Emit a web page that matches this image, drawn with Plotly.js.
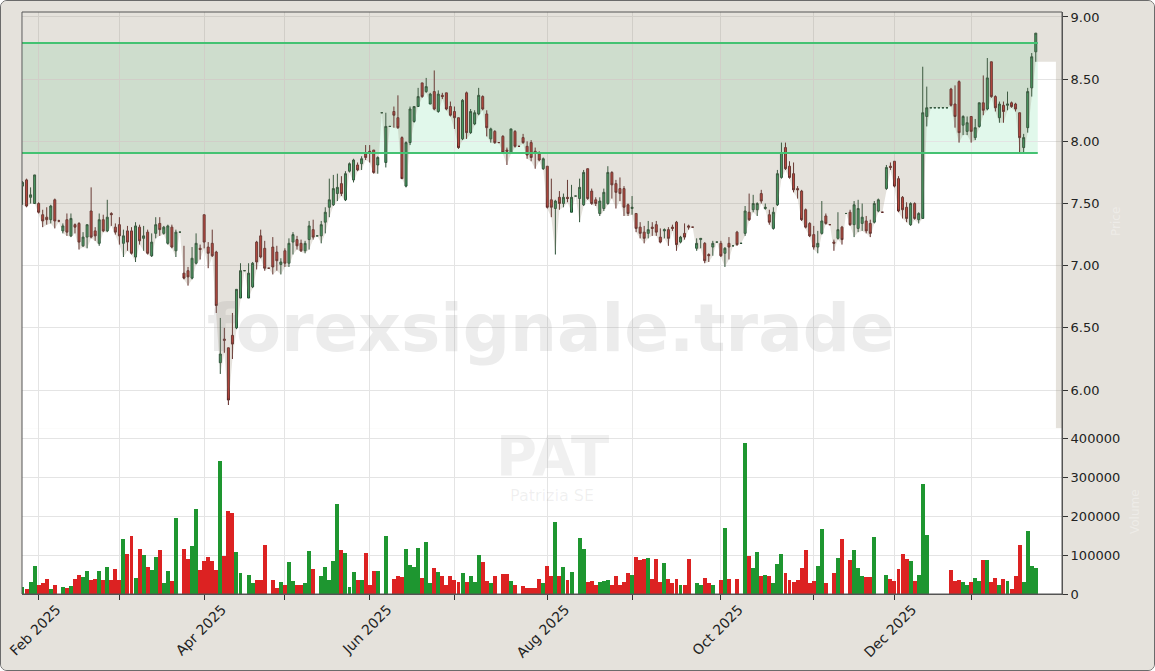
<!DOCTYPE html>
<html><head><meta charset="utf-8">
<script src="https://cdn.plot.ly/plotly-3.0.1.min.js"></script>
<style>
html,body{margin:0;padding:0;background:#ffffff;}
#wrap{width:1153px;height:669px;border:1px solid #6b6b6b;border-radius:7px;overflow:hidden;background:#e5e2dc;}
#chart{width:1153px;height:669px;}
</style></head><body><div id="wrap"><div id="chart"></div></div>
<script>
// ---- data ----
const startDate = '2025-01-28';
const holidays = ['2025-04-18','2025-04-21','2025-05-01','2025-12-24','2025-12-25','2025-12-26','2025-12-31','2026-01-01'];

const opens = [
7.64,7.69,7.55,7.50,7.50,7.41,7.39,7.37,7.53,7.36,
7.28,7.37,7.24,7.33,7.34,7.16,7.23,7.44,7.28,7.18,
7.37,7.28,7.42,7.31,7.33,7.18,7.28,7.28,7.07,7.31,
7.22,7.27,7.08,7.26,7.34,7.26,7.18,7.31,7.12,7.27,
6.94,6.96,6.90,7.02,7.14,7.41,7.15,7.18,7.11,6.22,
6.41,6.34,6.44,6.50,6.74,6.96,6.74,6.83,7.19,7.24,
7.14,6.98,7.15,7.11,7.01,7.12,7.02,7.19,7.21,7.18,
7.12,7.21,7.29,7.24,7.24,7.35,7.47,7.49,7.58,7.66,
7.53,7.76,7.69,7.81,7.82,7.90,7.92,7.93,7.81,8.23,
7.83,8.12,8.24,8.19,8.03,7.64,7.99,8.16,8.28,8.47,
8.40,8.30,8.40,8.24,8.37,8.39,8.28,8.24,8.19,8.02,
8.39,8.07,8.14,8.22,8.36,8.22,8.02,8.08,7.99,8.04,
7.93,7.91,8.08,7.96,8.03,7.96,7.99,7.92,7.90,7.78,
7.80,7.53,7.46,7.55,7.50,7.55,7.43,7.56,7.54,7.49,
7.78,7.60,7.53,7.42,7.46,7.50,7.75,7.66,7.62,7.62,
7.49,7.46,7.42,7.31,7.27,7.26,7.31,7.33,7.23,7.28,
7.29,7.31,7.35,7.19,7.26,7.32,7.31,7.14,7.21,7.18,
7.09,7.15,7.19,7.18,7.10,7.18,7.16,7.27,7.18,7.26,
7.43,7.45,7.45,7.58,7.46,7.41,7.30,7.49,7.71,7.95,
7.80,7.74,7.62,7.60,7.45,7.34,7.25,7.15,7.26,7.40,
7.33,7.19,7.22,7.31,7.42,7.43,7.33,7.30,7.34,7.36,
7.34,7.35,7.44,7.43,7.62,7.80,7.84,7.70,7.55,7.47,
7.33,7.50,7.37,7.38,8.20,8.27,8.27,8.27,8.27,8.27,
8.42,8.30,8.48,8.13,8.08,8.20,8.03,8.12,8.31,8.26,
8.64,8.36,8.19,8.29,8.29,8.31,8.30,8.23,7.95,8.11,
8.43,8.72];

const highs = [
7.68,7.70,7.63,7.73,7.51,7.45,7.47,7.49,7.54,7.37,
7.34,7.42,7.42,7.34,7.35,7.27,7.33,7.63,7.31,7.42,
7.41,7.53,7.43,7.34,7.39,7.29,7.32,7.31,7.35,7.33,
7.32,7.29,7.26,7.39,7.39,7.32,7.33,7.33,7.29,7.27,
7.16,6.99,7.15,7.26,7.17,7.41,7.19,7.29,7.12,6.58,
6.50,6.34,6.62,6.81,7.02,6.96,7.02,7.03,7.20,7.29,
7.20,6.98,7.23,7.16,7.06,7.14,7.22,7.27,7.24,7.21,
7.20,7.36,7.37,7.24,7.36,7.47,7.70,7.73,7.74,7.72,
7.76,7.83,7.86,7.83,7.88,7.97,7.97,7.93,7.88,8.23,
8.23,8.12,8.28,8.37,8.04,8.00,8.28,8.28,8.43,8.47,
8.51,8.39,8.57,8.41,8.39,8.39,8.32,8.28,8.19,8.34,
8.40,8.26,8.25,8.43,8.37,8.25,8.11,8.09,7.99,8.05,
7.95,8.10,8.09,7.96,8.06,8.00,8.01,7.95,7.92,7.87,
7.80,7.70,7.53,7.60,7.58,7.69,7.65,7.56,7.70,7.77,
7.78,7.62,7.55,7.55,7.62,7.80,7.76,7.69,7.71,7.64,
7.50,7.56,7.42,7.35,7.32,7.36,7.35,7.36,7.30,7.30,
7.31,7.33,7.36,7.24,7.34,7.33,7.31,7.22,7.22,7.19,
7.10,7.20,7.19,7.20,7.15,7.23,7.16,7.28,7.18,7.48,
7.58,7.57,7.51,7.61,7.50,7.45,7.47,7.77,7.99,7.99,
7.84,7.83,7.64,7.61,7.46,7.35,7.32,7.28,7.52,7.42,
7.33,7.21,7.43,7.32,7.42,7.45,7.52,7.53,7.50,7.40,
7.37,7.52,7.54,7.43,7.81,7.83,7.84,7.72,7.56,7.51,
7.51,7.51,7.43,8.60,8.44,8.27,8.27,8.27,8.27,8.27,
8.43,8.45,8.49,8.21,8.20,8.20,8.18,8.31,8.53,8.67,
8.64,8.37,8.32,8.32,8.40,8.32,8.31,8.23,8.06,8.43,
8.71,8.87];

const lows = [
7.49,7.47,7.50,7.50,7.42,7.31,7.33,7.34,7.30,7.35,
7.26,7.24,7.23,7.26,7.13,7.15,7.14,7.22,7.20,7.16,
7.27,7.27,7.32,7.25,7.17,7.07,7.12,7.09,7.03,7.17,
7.12,7.09,7.07,7.22,7.24,7.25,7.17,7.14,7.07,7.27,
6.89,6.84,6.89,7.01,7.05,7.14,6.98,7.07,6.62,6.13,
6.30,5.88,6.25,6.49,6.74,6.96,6.74,6.82,6.97,7.06,
6.96,6.98,6.93,6.96,6.93,6.99,6.99,7.09,7.13,7.11,
7.10,7.13,7.21,7.24,7.18,7.26,7.39,7.48,7.52,7.56,
7.52,7.75,7.67,7.76,7.77,7.85,7.83,7.74,7.74,8.23,
7.79,8.12,8.11,8.10,7.70,7.63,7.97,8.15,8.28,8.35,
8.39,8.30,8.25,8.23,8.34,8.25,8.20,8.10,7.94,8.01,
8.02,8.06,8.13,8.21,8.25,8.04,7.99,7.98,7.99,7.90,
7.81,7.90,7.95,7.96,7.98,7.86,7.84,7.78,7.84,7.77,
7.46,7.39,7.09,7.45,7.47,7.51,7.43,7.56,7.35,7.48,
7.53,7.49,7.48,7.40,7.44,7.49,7.54,7.46,7.52,7.40,
7.40,7.41,7.27,7.22,7.18,7.22,7.24,7.24,7.18,7.22,
7.16,7.28,7.12,7.18,7.21,7.29,7.31,7.12,7.14,7.02,
7.03,7.08,7.19,7.07,6.99,7.05,7.16,7.16,7.18,7.24,
7.36,7.43,7.40,7.50,7.45,7.33,7.29,7.48,7.70,7.77,
7.70,7.59,7.54,7.36,7.30,7.23,7.13,7.10,7.25,7.33,
7.33,7.12,7.21,7.17,7.42,7.32,7.23,7.27,7.28,7.26,
7.23,7.34,7.43,7.43,7.61,7.77,7.63,7.43,7.38,7.35,
7.32,7.37,7.34,7.38,8.12,8.27,8.27,8.27,8.27,8.27,
8.28,8.11,7.99,8.05,8.05,7.99,8.01,8.11,8.21,8.25,
8.35,8.24,8.15,8.15,8.25,8.27,8.24,7.91,7.91,8.07,
8.36,8.64];

const closes = [
7.67,7.48,7.57,7.73,7.43,7.36,7.37,7.48,7.36,7.36,
7.32,7.27,7.38,7.31,7.19,7.23,7.33,7.23,7.24,7.37,
7.28,7.39,7.41,7.27,7.24,7.24,7.19,7.10,7.32,7.20,
7.24,7.10,7.19,7.33,7.29,7.31,7.32,7.15,7.27,7.27,
6.90,6.91,7.06,7.18,7.13,7.19,7.10,7.08,6.68,6.29,
6.40,5.92,6.37,6.81,6.96,6.96,6.94,7.02,7.03,7.07,
6.98,6.98,6.99,7.04,7.03,7.02,7.18,7.25,7.16,7.12,
7.18,7.32,7.23,7.24,7.33,7.43,7.53,7.62,7.63,7.58,
7.74,7.82,7.85,7.77,7.86,7.87,7.91,7.75,7.87,8.23,
8.12,8.12,8.21,8.11,7.70,7.99,8.26,8.28,8.36,8.36,
8.44,8.38,8.26,8.38,8.36,8.26,8.21,8.19,7.95,8.33,
8.07,8.24,8.23,8.37,8.26,8.11,8.10,7.99,7.99,7.91,
7.92,8.10,7.96,7.96,7.99,7.89,7.87,7.91,7.85,7.86,
7.47,7.47,7.52,7.50,7.55,7.54,7.55,7.56,7.63,7.75,
7.54,7.50,7.50,7.52,7.59,7.75,7.65,7.59,7.58,7.47,
7.42,7.47,7.30,7.26,7.22,7.29,7.30,7.27,7.19,7.29,
7.22,7.30,7.17,7.23,7.23,7.31,7.31,7.18,7.22,7.04,
7.08,7.18,7.19,7.08,7.14,7.15,7.16,7.17,7.18,7.44,
7.37,7.50,7.50,7.52,7.47,7.35,7.43,7.74,7.91,7.78,
7.71,7.61,7.61,7.37,7.31,7.24,7.15,7.18,7.36,7.34,
7.33,7.18,7.29,7.21,7.42,7.33,7.49,7.46,7.39,7.28,
7.26,7.50,7.53,7.43,7.79,7.79,7.64,7.44,7.45,7.38,
7.50,7.38,7.42,8.23,8.27,8.27,8.27,8.27,8.27,8.27,
8.29,8.20,8.07,8.20,8.15,8.08,8.11,8.31,8.25,8.51,
8.36,8.27,8.30,8.24,8.30,8.28,8.26,8.03,8.03,8.40,
8.68,8.87];

const volumes = [
18000,13000,32000,72000,24000,27000,39000,13000,24000,0,
18000,15000,21000,39000,48000,44000,58000,37000,39000,60000,
37000,70000,35000,63000,37000,140000,103000,149000,41000,115000,
100000,69000,62000,95000,113000,28000,60000,33000,196000,0,
115000,90000,123000,217000,62000,85000,95000,85000,62000,340000,
98000,212000,207000,107000,55000,0,50000,27000,35000,35000,
126000,0,35000,16000,30000,24000,83000,34000,23000,22000,
28000,110000,65000,0,47000,69000,37000,85000,230000,113000,
105000,19000,57000,35000,37000,105000,24000,60000,58000,0,
149000,0,39000,47000,43000,116000,75000,70000,117000,42000,
134000,27000,67000,57000,47000,24000,47000,37000,30000,55000,
32000,47000,32000,100000,83000,34000,27000,45000,0,52000,
52000,34000,24000,0,20000,15000,15000,15000,39000,27000,
72000,45000,184000,47000,70000,37000,57000,0,144000,116000,
32000,34000,22000,32000,34000,37000,22000,45000,22000,32000,
55000,50000,95000,88000,90000,93000,39000,90000,32000,80000,
39000,27000,39000,24000,22000,90000,0,27000,22000,42000,
29000,22000,0,37000,170000,39000,0,39000,0,388000,
98000,67000,108000,45000,50000,45000,29000,78000,102000,55000,
37000,30000,37000,67000,113000,27000,34000,73000,166000,28000,
0,54000,92000,141000,0,88000,113000,67000,47000,44000,
44000,145000,0,0,50000,39000,33000,64000,103000,90000,
85000,34000,50000,281000,151000,0,0,0,0,0,
62000,34000,37000,32000,22000,32000,41000,34000,88000,88000,
31000,42000,24000,39000,34000,14000,47000,126000,32000,161000,
72000,67000];

const bandLow = 7.906;
const bandHigh = 8.79;
const priceTicks = [6.0,6.5,7.0,7.5,8.0,8.5,9.0];
const volumeTicks = [0,100000,200000,300000,400000];
const monthTicks = ['2025-02-03','2025-03-03','2025-04-01','2025-05-02','2025-06-02','2025-07-01','2025-08-01','2025-09-01','2025-10-01','2025-11-03','2025-12-01','2026-01-02'];
const monthLabels = ['Feb 2025','','Apr 2025','','Jun 2025','','Aug 2025','','Oct 2025','','Dec 2025',''];
const symbol = 'PAT';
const companyName = 'Patrizia SE';
const watermark = 'forexsignale.trade';

// ---- helpers ----
function addDays(s, n){ const d = new Date(s + 'T00:00:00Z'); d.setUTCDate(d.getUTCDate() + n); return d.toISOString().slice(0,10); }
function tradingDays(from, count){
  const out = []; let d = from;
  while(out.length < count){
    const wd = new Date(d + 'T00:00:00Z').getUTCDay();
    if(wd !== 0 && wd !== 6 && holidays.indexOf(d) < 0) out.push(d);
    d = addDays(d, 1);
  }
  return out;
}
const dates = tradingDays(startDate, opens.length);
const lastDate = dates[dates.length - 1];
const extDates = tradingDays(addDays(lastDate, 1), 5);

const xRange = ['2025-01-27 21:00', '2026-02-03 12:00'];
const priceRange = [5.694, 9.04];
const volRange = [0, 425600];

// support-area outline: lows, carried a few sessions forward, then the right margin strip
const lastExt = extDates[extDates.length - 1];
const fillX = dates.concat(extDates, [lastExt, xRange[1]]);
const fillY = lows.concat(extDates.map(() => lows[lows.length - 1]), [priceRange[0], priceRange[0]]);
const topY = fillX.map(() => priceRange[1]);
const bandEnd = lastDate + ' 12:00';

const volColors = closes.map((c, i) => c >= opens[i] ? '#1e9630' : '#dc2222');

const traces = [
  {type:'scatter', mode:'lines', x: fillX, y: topY, line:{width:0}, hoverinfo:'skip', xaxis:'x', yaxis:'y'},
  {type:'scatter', mode:'lines', x: fillX, y: fillY, fill:'tonexty', fillcolor:'rgba(151,139,115,0.25)', line:{width:0}, hoverinfo:'skip', xaxis:'x', yaxis:'y'},
  {type:'scatter', mode:'lines', x:[xRange[0], bandEnd], y:[bandHigh, bandHigh], line:{color:'#44c272', width:2}, xaxis:'x', yaxis:'y'},
  {type:'scatter', mode:'lines', x:[xRange[0], bandEnd], y:[bandLow, bandLow], line:{color:'#44c272', width:2}, xaxis:'x', yaxis:'y'},
  {type:'candlestick', x: dates, open: opens, high: highs, low: lows, close: closes, xaxis:'x', yaxis:'y',
    increasing:{line:{color:'#1f4a30', width:1}, fillcolor:'#2f9f5c'},
    decreasing:{line:{color:'#5a2020', width:1}, fillcolor:'#c9302c'},
    whiskerwidth:0},
  {type:'bar', x: dates, y: volumes, xaxis:'x', yaxis:'y2', marker:{color: volColors, line:{width:0}}, width: 86400000 * 0.98}
];

const axisCommon = {ticks:'outside', ticklen:5, tickcolor:'#333', showgrid:true, gridcolor:'#e4e4e4', gridwidth:1, showline:true, linecolor:'#555', linewidth:1, zeroline:false, tickfont:{family:'DejaVu Sans', size:13, color:'#222'}};

const layout = {
  width:1153, height:669,
  margin:{l:21, r:92, t:11, b:76},
  paper_bgcolor:'#e5e2dc', plot_bgcolor:'#ffffff',
  showlegend:false, hovermode:false, bargap:0,
  font:{family:'DejaVu Sans', size:13, color:'#222'},
  xaxis: Object.assign({}, axisCommon, {type:'date', range:xRange, rangebreaks:[{bounds:['sat','mon']},{values:holidays}],
    rangeslider:{visible:false}, anchor:'y2', tickmode:'array', tickvals:monthTicks, ticktext:monthLabels, tickangle:-45,
    ticklabelshift:18, ticklabelstandoff:-4, ticklabeloverflow:'allow', tickfont:{family:'DejaVu Sans', size:14, color:'#222'}}),
  yaxis: Object.assign({}, axisCommon, {domain:[0.285,1], range:priceRange, side:'right', anchor:'x', tickmode:'array', tickvals:priceTicks, tickformat:'.2f'}),
  yaxis2: Object.assign({}, axisCommon, {domain:[0,0.285], range:volRange, side:'right', anchor:'x', tickmode:'array', tickvals:volumeTicks, tickformat:'d'}),
  shapes:[
    {type:'rect', xref:'x', yref:'y', x0:xRange[0], x1:bandEnd, y0:bandLow, y1:bandHigh, fillcolor:'rgba(46,204,113,0.14)', line:{width:0}, layer:'below'},
    {type:'rect', xref:'paper', yref:'paper', x0:0, x1:1, y0:0, y1:1, line:{color:'#555', width:1}, fillcolor:'rgba(0,0,0,0)', layer:'above'}
  ],
  annotations:[
    {xref:'paper', yref:'paper', x:0.509, y:0.457, text:'<b>' + watermark + '</b>', showarrow:false, font:{family:'DejaVu Sans', size:66, color:'rgba(128,128,128,0.15)'}},
    {xref:'paper', yref:'paper', x:0.51, y:0.178, text:'<b>' + symbol + '</b>', showarrow:false, font:{family:'DejaVu Sans', size:56, color:'rgba(128,128,128,0.12)'}},
    {xref:'paper', yref:'paper', x:0.51, y:0.150, text:companyName, showarrow:false, font:{family:'DejaVu Sans', size:16, color:'rgba(128,128,128,0.12)'}},
    {xref:'paper', yref:'paper', x:1.06, y:0.64, text:'Price', textangle:-90, showarrow:false, font:{family:'DejaVu Sans', size:12, color:'rgba(255,255,255,0.35)'}},
    {xref:'paper', yref:'paper', x:1.079, y:0.099, text:'Volume', textangle:-90, showarrow:false, font:{family:'DejaVu Sans', size:12, color:'rgba(255,255,255,0.35)'}}
  ]
};

Plotly.newPlot('chart', traces, layout, {displayModeBar:false, staticPlot:true});
</script></body></html>
